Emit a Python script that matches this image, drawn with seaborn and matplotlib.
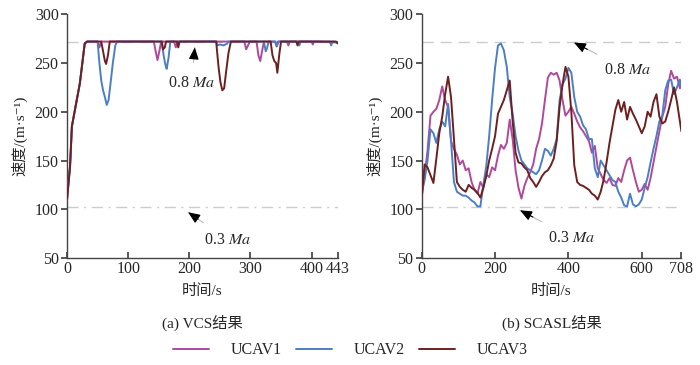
import numpy as np
import pandas as pd
import seaborn as sns
import matplotlib.pyplot as plt

# (a) VCS result: UCAV speeds, m/s
vcs_t1 = [0, 5, 8, 13, 21, 29, 33, 50, 53, 56, 142, 145, 148, 151, 154, 175, 178, 181,
          290, 293, 296, 299, 310, 313, 316, 319, 322, 340, 343, 346, 360, 362, 364,
          400, 402, 404, 443]
vcs_v1 = [110, 144, 185, 202, 229, 270, 272, 272, 266, 272, 272, 262, 253, 262, 272, 272, 266, 272,
          272, 264, 268, 272, 272, 258, 252, 262, 272, 272, 267, 272, 272, 268, 272,
          272, 269, 272, 271]

vcs_t2 = [0, 5, 8, 13, 21, 29, 33, 50, 53, 56, 59, 62, 65, 68, 71, 75, 79, 82,
          155, 158, 161, 163, 166, 169, 244, 246, 250, 256, 262, 264,
          322, 325, 327, 330, 341, 343, 345, 378, 380, 382, 430, 432, 434, 443]
vcs_v2 = [110, 144, 185, 202, 229, 270, 272, 272, 250, 232, 222, 215, 207, 212, 228, 250, 268, 272,
          272, 258, 248, 244, 255, 272, 272, 268, 269, 268, 270, 272,
          272, 262, 265, 272, 272, 267, 272, 272, 268, 272, 272, 268, 272, 271]

vcs_t3 = [0, 5, 8, 13, 21, 29, 33, 56, 59, 62, 64, 67, 70, 155, 157, 160, 162,
          180, 182, 184, 244, 246, 248, 251, 254, 257, 260, 264, 268,
          333, 336, 339, 342, 344, 347, 350, 375, 377, 379, 440, 443]
vcs_v3 = [110, 144, 185, 202, 229, 270, 272, 272, 262, 252, 249, 258, 272, 272, 264, 266, 272,
          272, 266, 272, 272, 258, 245, 230, 222, 224, 240, 260, 272,
          272, 258, 252, 250, 240, 258, 272, 272, 268, 272, 272, 270]

# (b) SCASL result, sampled every 8 s
scasl_t = list(range(0, 705, 8)) + [708]
scasl_v1 = [112, 135, 160, 196, 200, 203, 212, 226, 212, 205, 170, 162, 156, 146, 150, 140,
            142, 128, 120, 116, 128, 122, 136, 133, 143, 140, 155, 166, 162, 168, 192, 172,
            140, 122, 111, 124, 132, 138, 146, 162, 172, 188, 212, 235, 240, 238, 240, 232,
            212, 196, 200, 205, 198, 190, 184, 180, 175, 170, 158, 165, 142, 136, 130, 127,
            132, 125, 124, 132, 128, 140, 150, 153, 140, 128, 118, 120, 126, 120, 132, 148,
            164, 180, 195, 205, 228, 242, 234, 236, 224, 228]
scasl_v2 = [118, 130, 150, 182, 178, 168, 182, 190, 185, 208, 170, 128, 118, 116, 114, 114,
            112, 109, 107, 103, 103, 125, 144, 175, 212, 245, 268, 270, 263, 246, 215, 198,
            175, 160, 150, 146, 142, 140, 138, 136, 140, 150, 162, 160, 155, 162, 172, 212,
            228, 234, 245, 240, 215, 200, 195, 186, 182, 172, 172, 142, 133, 150, 145, 140,
            135, 130, 128, 118, 112, 104, 103, 116, 105, 103, 105, 110, 122, 133, 148, 162,
            175, 190, 196, 222, 232, 233, 218, 225, 233, 225]
scasl_v3 = [112, 146, 143, 135, 127, 152, 178, 195, 218, 236, 215, 172, 128, 123, 120, 118,
            125, 122, 120, 117, 112, 122, 134, 150, 162, 175, 198, 205, 212, 222, 232, 190,
            158, 148, 147, 143, 140, 132, 128, 123, 128, 134, 138, 140, 145, 152, 170, 205,
            228, 246, 236, 200, 145, 128, 125, 124, 122, 120, 116, 114, 110, 118, 130, 148,
            168, 185, 202, 212, 200, 210, 192, 205, 198, 192, 185, 178, 185, 200, 195, 210,
            218, 195, 188, 190, 200, 212, 225, 210, 190, 180]

names = ["UCAV1", "UCAV2", "UCAV3"]
colors = ["#B0489C", "#4C7EC6", "#6E1F1F"]
ma08 = 272
ma03 = 102

vcs = pd.concat([
    pd.DataFrame({"t": vcs_t1, "v": vcs_v1, "uav": names[0]}),
    pd.DataFrame({"t": vcs_t2, "v": vcs_v2, "uav": names[1]}),
    pd.DataFrame({"t": vcs_t3, "v": vcs_v3, "uav": names[2]}),
])
scasl = pd.concat([
    pd.DataFrame({"t": scasl_t, "v": scasl_v1, "uav": names[0]}),
    pd.DataFrame({"t": scasl_t, "v": scasl_v2, "uav": names[1]}),
    pd.DataFrame({"t": scasl_t, "v": scasl_v3, "uav": names[2]}),
])

sns.set_theme(style="ticks")
plt.rcParams['font.family'] = ['Liberation Serif', 'Noto Sans CJK SC', 'DejaVu Sans']
plt.rcParams['mathtext.fontset'] = 'stix'

fig = plt.figure(figsize=(7, 3.65), dpi=100)
ax1 = fig.add_axes([0.0957, 0.293, 0.387, 0.668])
ax2 = fig.add_axes([0.6024, 0.293, 0.371, 0.668])

pal = dict(zip(names, colors))


def annot(ax, label, head, text):
    # grey shaft with a black head, like the reference
    ax.annotate(label, xy=head, xytext=text, fontsize=11.5, ha="center", va="center",
                arrowprops=dict(arrowstyle="-", color="#bbbbbb", lw=0.8,
                                shrinkA=7, shrinkB=0))
    dx = (text[0] - head[0]) * 0.25
    dy = (text[1] - head[1]) * 0.25
    ax.annotate("", xy=head, xytext=(head[0] + dx, head[1] + dy),
                arrowprops=dict(arrowstyle="-|>,head_length=0.6,head_width=0.25",
                                color="black", lw=0.8, shrinkA=0, shrinkB=0))


for ax, df, xmax, xticks, sub, ann in [
    (ax1, vcs, 443, [0, 100, 200, 300, 400, 443], "(a) VCS结果",
     [((209, 266), (204, 229)), ((198, 97), (263, 69))]),
    (ax2, scasl, 708, [0, 200, 400, 600, 708], "(b) SCASL结果",
     [((415, 271), (562, 243)), ((268, 99), (409, 71))]),
]:
    ax.axhline(ma08, color="#cccccc", lw=1, ls=(0, (8, 5)), zorder=1)
    ax.axhline(ma03, color="#cccccc", lw=1, ls=(0, (8, 4, 1.5, 4)), zorder=1)
    sns.lineplot(data=df, x="t", y="v", hue="uav", palette=pal, estimator=None,
                 sort=False, lw=1.4, legend=False, ax=ax, zorder=3)
    ax.set_xlim(0, xmax)
    ax.set_ylim(50, 300)
    ax.set_xticks(xticks)
    ax.set_yticks([50, 100, 150, 200, 250, 300])
    ax.set_xlabel("时间/s", fontsize=11, labelpad=5)
    ax.set_ylabel("速度/(m·s⁻¹)", fontsize=11, labelpad=5)
    ax.tick_params(axis="x", direction="in", length=4, labelsize=11.5, pad=2, color="#444444")
    ax.tick_params(axis="y", direction="out", length=4, labelsize=11.5, pad=2, color="#444444")
    for s in ["top", "right"]:
        ax.spines[s].set_visible(False)
    for s in ["left", "bottom"]:
        ax.spines[s].set_color("#444444")
        ax.spines[s].set_linewidth(1)
    annot(ax, "0.8 $Ma$", ann[0][0], ann[0][1])
    annot(ax, "0.3 $Ma$", ann[1][0], ann[1][1])
    pos = ax.get_position()
    fig.text(pos.x0 + pos.width / 2, 0.115, sub, ha="center", va="center", fontsize=11)

handles = [plt.Line2D([], [], color=c, lw=1.4) for c in colors]
fig.legend(handles, names, loc="center", bbox_to_anchor=(0.5, 0.04), ncol=3,
           frameon=False, fontsize=11.5, handlelength=2.3, handletextpad=1.3,
           columnspacing=0.9)

fig.savefig("out.png", dpi=100)
